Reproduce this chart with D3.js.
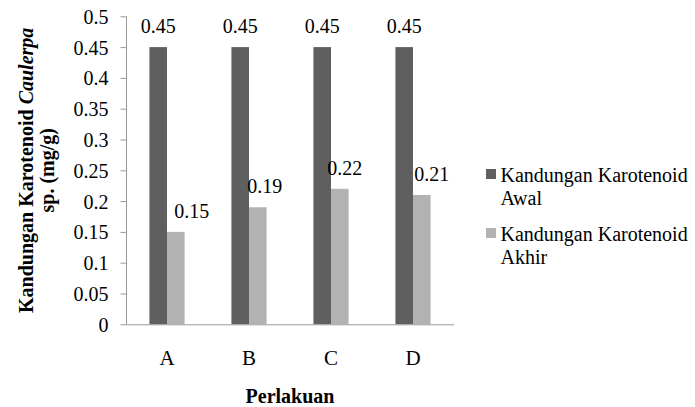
<!DOCTYPE html>
<html>
<head>
<meta charset="utf-8">
<script src="https://cdn.jsdelivr.net/npm/d3@7"></script>
<style>
  html, body { margin: 0; padding: 0; background: #fff; }
  svg { display: block; }
</style>
</head>
<body>
<svg id="chart" width="695" height="407"></svg>
<script>
// Treatments and carotenoid content (mg/g)
const categories = ["A", "B", "C", "D"];
const seriesNames = ["Kandungan Karotenoid Awal", "Kandungan Karotenoid Akhir"];
const awal = [0.45, 0.45, 0.45, 0.45];
const akhir = [0.15, 0.19, 0.22, 0.21];
const yTicks = [0, 0.05, 0.1, 0.15, 0.2, 0.25, 0.3, 0.35, 0.4, 0.45, 0.5];

// Horizontal nudges for the "Akhir" value labels
const akhirLabelDx = [16, 7, 5, 10];

const FONT = "'Liberation Serif', 'Times New Roman', Times, serif";
const colors = ["#5f5f5f", "#b2b2b2"];
const axisColor = "#9a9a9a";
const svg = d3.select("#chart").attr("font-family", FONT);

const plotLeft = 126, plotRight = 454, plotTop = 16.3, plotBottom = 324.3;

const x0 = d3.scaleBand().domain(categories).range([plotLeft, plotRight]).paddingInner(0.5714).paddingOuter(0.2857);
const x1 = d3.scaleBand().domain([0, 1]).range([0, x0.bandwidth()]);
const y = d3.scaleLinear().domain([0, 0.5]).range([plotBottom, plotTop]);

// Y axis
const yAxis = svg.append("g")
  .attr("transform", `translate(${plotLeft},0)`)
  .call(d3.axisLeft(y).tickValues(yTicks).tickSize(5.5).tickPadding(12)
    .tickFormat(d => String(+d.toFixed(2))));
yAxis.attr("font-family", FONT).attr("font-size", 20);
yAxis.select(".domain").attr("stroke", axisColor).attr("d", `M0.5,${plotTop}V${plotBottom}`);
yAxis.selectAll(".tick line").attr("stroke", axisColor);
yAxis.selectAll(".tick text").attr("dy", "0.35em").attr("fill", "#000");

// Bars
const series = [awal, akhir];
const groups = svg.append("g").selectAll("g")
  .data(categories).join("g")
  .attr("transform", d => `translate(${x0(d)},0)`);

groups.selectAll("rect")
  .data((d, i) => series.map((s, k) => ({ k, v: s[i] })))
  .join("rect")
  .attr("x", d => x1(d.k))
  .attr("width", x1.bandwidth())
  .attr("y", d => y(d.v))
  .attr("height", d => y(0) - y(d.v))
  .attr("fill", d => colors[d.k]);

// Value labels
groups.selectAll("text.val")
  .data((d, i) => series.map((s, k) => ({ k, v: s[i], i })))
  .join("text")
  .attr("class", "val")
  .attr("x", d => x1(d.k) + x1.bandwidth() / 2 + (d.k === 1 ? akhirLabelDx[d.i] : 0))
  .attr("y", d => y(d.v) - 14)
  .attr("text-anchor", "middle")
  .attr("font-size", 20)
  .text(d => d.v);

// X axis line and category labels
svg.append("line")
  .attr("x1", plotLeft).attr("x2", plotRight)
  .attr("y1", plotBottom + 0.5).attr("y2", plotBottom + 0.5)
  .attr("stroke", axisColor);

svg.append("g").selectAll("text")
  .data(categories).join("text")
  .attr("x", d => x0(d) + x0.bandwidth() / 2)
  .attr("y", 365)
  .attr("text-anchor", "middle")
  .attr("font-size", 21)
  .text(d => d);

// Axis titles
svg.append("text")
  .attr("x", (plotLeft + plotRight) / 2)
  .attr("y", 403)
  .attr("text-anchor", "middle")
  .attr("font-size", 20)
  .attr("font-weight", "bold")
  .text("Perlakuan");

const yt = svg.append("text")
  .attr("transform", `translate(33,${(plotTop + plotBottom) / 2}) rotate(-90)`)
  .attr("text-anchor", "middle")
  .attr("font-size", 20)
  .attr("font-weight", "bold");
const line1 = yt.append("tspan").attr("x", 0).attr("y", 0);
line1.append("tspan").text("Kandungan Karotenoid ");
line1.append("tspan").attr("font-style", "italic").text("Caulerpa");
yt.append("tspan").attr("x", 0).attr("y", 21).text("sp. (mg/g)");

// Legend
const legendY = [169, 228];
const legend = svg.append("g").selectAll("g")
  .data(seriesNames).join("g")
  .attr("transform", (d, i) => `translate(486,${legendY[i]})`);
legend.append("rect")
  .attr("width", 10).attr("height", 10)
  .attr("fill", (d, i) => colors[i]);
legend.append("text")
  .attr("font-size", 20)
  .each(function (d) {
    const parts = d.split(" ");
    const t = d3.select(this);
    t.append("tspan").attr("x", 14.5).attr("y", 13).text(parts.slice(0, 2).join(" "));
    t.append("tspan").attr("x", 14.5).attr("y", 35.5).text(parts.slice(2).join(" "));
  });

svg.selectAll("text").style("font-family", FONT).attr("fill", "#000");
</script>
</body>
</html>
